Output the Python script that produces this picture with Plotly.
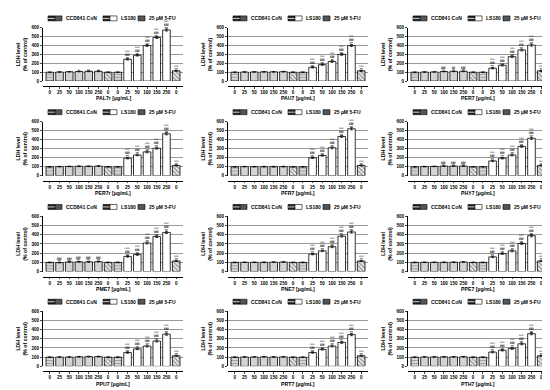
import plotly.graph_objects as go

PANELS = ["PAL7r", "PAU7", "PER7", "PER7r", "PFR7", "PHY7",
          "PME7", "PNE7", "PPE7", "PPU7", "PRT7", "PTH7"]
TICK_LABELS = ["0", "25", "50", "100", "150", "250", "0",
               "0", "25", "50", "100", "150", "250", "0"]
LEGEND_LABELS = ["CCD841 CoN", "LS180", "25 µM 5-FU"]
Y_TICKS = [0, 100, 200, 300, 400, 500, 600]

# CCD841 CoN: 0, 25, 50, 100, 150, 250 µg/mL, then 25 µM 5-FU
CON_VALUES = [
    [100, 102, 105, 108, 110, 110, 100],  # PAL7r
    [100, 102, 103, 104, 104, 106, 100],  # PAU7
    [100, 102, 103, 108, 110, 110, 100],  # PER7
    [100, 102, 104, 106, 106, 108, 100],  # PER7r
    [100, 102, 101, 101, 101, 102, 100],  # PFR7
    [100, 102, 104, 108, 108, 108, 100],  # PHY7
    [100, 98, 105, 106, 106, 108, 100],   # PME7
    [100, 101, 101, 101, 103, 104, 100],  # PNE7
    [100, 101, 101, 101, 102, 104, 100],  # PPE7
    [100, 101, 101, 104, 106, 106, 100],  # PPU7
    [100, 102, 102, 103, 102, 103, 100],  # PRT7
    [100, 102, 102, 103, 103, 104, 100],  # PTH7
]
# LS180: 0, 25, 50, 100, 150, 250 µg/mL, then 25 µM 5-FU
LS_VALUES = [
    [100, 245, 290, 400, 490, 575, 115],  # PAL7r
    [100, 155, 185, 220, 300, 400, 115],  # PAU7
    [100, 145, 178, 275, 350, 405, 115],  # PER7
    [100, 195, 230, 265, 305, 465, 115],  # PER7r
    [100, 200, 225, 310, 435, 520, 115],  # PFR7
    [100, 165, 195, 230, 325, 415, 115],  # PHY7
    [100, 165, 185, 310, 380, 425, 115],  # PME7
    [100, 190, 225, 270, 385, 430, 115],  # PNE7
    [100, 160, 195, 225, 305, 390, 115],  # PPE7
    [100, 150, 190, 220, 275, 350, 115],  # PPU7
    [100, 150, 185, 220, 260, 345, 115],  # PRT7
    [100, 155, 175, 195, 245, 355, 115],  # PTH7
]
CON_ERR = [3, 3, 3, 4, 4, 4, 3]
LS_ERR = [3, 8, 8, 10, 10, 12, 6]

# significance marks, bottom line first, lines separated by "|"
CON_MARKS = [
    ["", "", "", "#", "##", "##", ""],
    [""] * 7,
    ["", "", "", "**|###", "**|##", "***|###", ""],
    [""] * 7,
    [""] * 7,
    ["", "", "", "**|###", "**|###", "***|###", ""],
    ["", "***|###", "***|###", "***|###", "***|###", "***|###", ""],
    [""] * 7,
    [""] * 7,
    [""] * 7,
    [""] * 7,
    [""] * 7,
]
LS_MARKS = ["", "***|###|^^^", "***|###|^^^", "***|###|^^^",
            "***|###|^^^", "***|###|^^^", "***|^^^"]

W, H = 550, 390
FONT = "Liberation Sans, Arial, sans-serif"
COL_X = [(35, 175), (220, 360), (400, 540)]      # px
ROW_Y = [(18, 72), (113, 168), (209, 265), (305, 361)]  # px (top, zero)


def px_x(p):
    return p / W


def px_y(p):
    return 1 - p / H


fig = go.Figure()
shapes = []
annotations = []

CON_COLORS = ["white", "#d3d3d3", "#d3d3d3", "#d3d3d3", "#d3d3d3", "#d3d3d3", "white"]
CON_PAT = ["-", "", "", "", "", "", "\\"]
LS_COLORS = ["white"] * 7
LS_PAT = ["-", "", "", "", "", "", "\\"]

for i, name in enumerate(PANELS):
    r, c = divmod(i, 3)
    x0, x1 = COL_X[c]
    ytop, yzero = ROW_Y[r]
    xa = "x" if i == 0 else f"x{i+1}"
    ya = "y" if i == 0 else f"y{i+1}"
    xkey = "xaxis" if i == 0 else f"xaxis{i+1}"
    ykey = "yaxis" if i == 0 else f"yaxis{i+1}"

    xs_con = list(range(0, 7))
    xs_ls = list(range(7, 14))
    fig.add_trace(go.Bar(
        x=xs_con, y=CON_VALUES[i], xaxis=xa, yaxis=ya, width=0.78,
        marker=dict(color=CON_COLORS, line=dict(color="black", width=0.8),
                    pattern=dict(shape=CON_PAT, fgcolor="black", bgcolor="white",
                                 size=3, solidity=0.62)),
        error_y=dict(type="data", array=CON_ERR, color="black", thickness=0.7, width=1.5),
        showlegend=False, name=LEGEND_LABELS[0]))
    fig.add_trace(go.Bar(
        x=xs_ls, y=LS_VALUES[i], xaxis=xa, yaxis=ya, width=0.78,
        marker=dict(color=LS_COLORS, line=dict(color="black", width=0.8),
                    pattern=dict(shape=LS_PAT, fgcolor="black", bgcolor="white",
                                 size=3, solidity=0.62)),
        error_y=dict(type="data", array=LS_ERR, color="black", thickness=0.7, width=1.5),
        showlegend=False, name=LEGEND_LABELS[1]))

    for xs, vals, errs, marks in ((xs_con, CON_VALUES[i], CON_ERR, CON_MARKS[i]),
                                  (xs_ls, LS_VALUES[i], LS_ERR, LS_MARKS)):
        for xv, v, e, m in zip(xs, vals, errs, marks):
            if not m:
                continue
            lines = m.split("|")[::-1]
            annotations.append(dict(
                x=xv, y=v + e, xref=xa, yref=ya, text="<br>".join(lines),
                showarrow=False, yanchor="bottom", xanchor="center",
                yshift=-3, borderpad=0,
                font=dict(size=2.6, family=FONT, color="#222")))

    # x-axis title placed under the tick labels
    annotations.append(dict(
        x=px_x((x0 + x1) / 2), y=px_y(yzero + 17.5), xref="paper", yref="paper",
        text=f"{name} [µg/mL]", showarrow=False, xanchor="center", yanchor="middle",
        font=dict(size=5.2, family=FONT, color="black")))

    fig.update_layout({
        xkey: dict(domain=[px_x(x0), px_x(x1)], anchor="free",
                   position=px_y(yzero + 5), range=[-0.7, 13.7],
                   tickvals=list(range(14)), ticktext=TICK_LABELS,
                   ticks="outside", ticklen=1.5, tickwidth=0.8, showline=True,
                   linecolor="black", linewidth=1, showgrid=False, zeroline=False,
                   tickfont=dict(size=4.6), tickangle=0),
        ykey: dict(domain=[px_y(yzero), px_y(ytop)], anchor=xa, range=[0, 600],
                   tickvals=Y_TICKS, ticks="outside", ticklen=2, tickwidth=0.8,
                   showline=True, linecolor="black", linewidth=1,
                   showgrid=True, gridcolor="#9a9a9a", gridwidth=1, zeroline=False,
                   tickfont=dict(size=4.6),
                   title=dict(text="LDH level<br>(% of control)", font=dict(size=5.2),
                              standoff=3)),
    })

    # legend drawn per panel
    ly = ytop - 9.5
    sh = 2.5
    # CCD841 CoN symbol: stripes half + hatch half
    shapes.append(dict(type="rect", xref="paper", yref="paper",
                       x0=px_x(x0 + 5), x1=px_x(x0 + 12), y0=px_y(ly + sh), y1=px_y(ly - sh),
                       fillcolor="#222", line=dict(color="black", width=0.6)))
    shapes.append(dict(type="line", xref="paper", yref="paper",
                       x0=px_x(x0 + 5), x1=px_x(x0 + 12), y0=px_y(ly), y1=px_y(ly),
                       line=dict(color="white", width=0.8)))
    shapes.append(dict(type="rect", xref="paper", yref="paper",
                       x0=px_x(x0 + 12), x1=px_x(x0 + 19), y0=px_y(ly + sh), y1=px_y(ly - sh),
                       fillcolor="#555", line=dict(color="black", width=0.6)))
    annotations.append(dict(x=px_x(x0 + 20.5), y=px_y(ly), xref="paper", yref="paper",
                            text=LEGEND_LABELS[0], showarrow=False, xanchor="left",
                            yanchor="middle", font=dict(size=5, family=FONT, color="black")))
    # LS180 symbol
    shapes.append(dict(type="rect", xref="paper", yref="paper",
                       x0=px_x(x0 + 60), x1=px_x(x0 + 67), y0=px_y(ly + sh), y1=px_y(ly - sh),
                       fillcolor="#222", line=dict(color="black", width=0.6)))
    shapes.append(dict(type="line", xref="paper", yref="paper",
                       x0=px_x(x0 + 60), x1=px_x(x0 + 67), y0=px_y(ly), y1=px_y(ly),
                       line=dict(color="white", width=0.8)))
    shapes.append(dict(type="rect", xref="paper", yref="paper",
                       x0=px_x(x0 + 67), x1=px_x(x0 + 74), y0=px_y(ly + sh), y1=px_y(ly - sh),
                       fillcolor="white", line=dict(color="black", width=0.6)))
    annotations.append(dict(x=px_x(x0 + 75.5), y=px_y(ly), xref="paper", yref="paper",
                            text=LEGEND_LABELS[1], showarrow=False, xanchor="left",
                            yanchor="middle", font=dict(size=5, family=FONT, color="black")))
    # 5-FU symbol
    shapes.append(dict(type="rect", xref="paper", yref="paper",
                       x0=px_x(x0 + 95), x1=px_x(x0 + 102), y0=px_y(ly + sh), y1=px_y(ly - sh),
                       fillcolor="#555", line=dict(color="black", width=0.6)))
    annotations.append(dict(x=px_x(x0 + 103.5), y=px_y(ly), xref="paper", yref="paper",
                            text=LEGEND_LABELS[2], showarrow=False, xanchor="left",
                            yanchor="middle", font=dict(size=5, family=FONT, color="black")))

fig.update_layout(
    width=W, height=H, margin=dict(l=0, r=0, t=0, b=0),
    paper_bgcolor="white", plot_bgcolor="white",
    barmode="overlay", showlegend=False,
    font=dict(family=FONT, size=5, color="black", weight="bold"),
    shapes=shapes, annotations=annotations,
)

fig.write_html("out.html")
